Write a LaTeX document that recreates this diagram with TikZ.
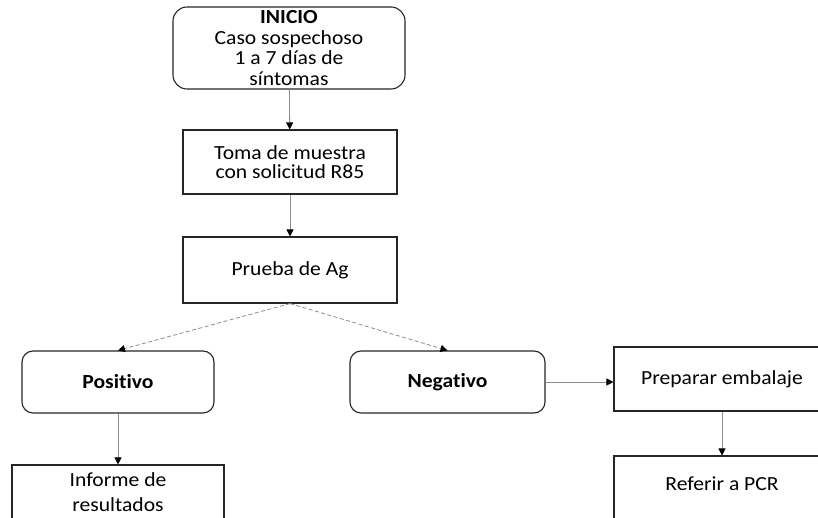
\documentclass[tikz,border=0pt]{standalone}
\usepackage{fontspec}
\setmainfont[FakeStretch=1.08,Ligatures=NoCommon]{Carlito}
\usetikzlibrary{positioning,calc,arrows.meta}

\begin{document}
\begin{tikzpicture}[x=1pt,y=1pt,
        caja/.style={draw=black!85,line width=1.1pt,minimum width=214pt,minimum height=64pt,align=center,
            font=\fontsize{20}{19}\selectfont,inner sep=0pt},
        redonda/.style={caja,rounded corners=11pt},
        flecha/.style={draw=black!45,line width=.8pt,-{Triangle[black,length=7pt,width=7pt]}}]
    \useasboundingbox (0,0) rectangle (818,-518);
    \clip (0,0) rectangle (818,-518);

    \node[redonda,minimum width=232pt,minimum height=82pt,rounded corners=14pt,
        font=\fontsize{20}{20.5}\selectfont] (inicio) at (289,-48)
        {\textbf{INICIO}\\Caso sospechoso\\1 a 7 días de\\síntomas};
    \node[caja] (toma) at (290,-162) {Toma de muestra\\con solicitud R85};
    \node[caja,minimum height=66pt] (prueba) at (290,-270) {Prueba de Ag};

    \node[redonda,minimum width=192pt,minimum height=62pt] (positivo) at (118,-382) {\textbf{Positivo}};
    \node[redonda,minimum width=195pt,minimum height=62pt] (negativo) at (447.5,-382) {\textbf{Negativo}};
    \node[caja,minimum width=216pt] (preparar) at (722,-379) {Preparar embalaje};

    \node[caja,minimum width=212pt,minimum height=70pt,text depth=16pt,font=\fontsize{20}{25}\selectfont] (informe) at (118,-500) {Informe de\\resultados};
    \node[caja,minimum width=216pt,minimum height=70pt,text depth=14pt] (referir) at (722,-491) {Referir a PCR};

    \draw[flecha] (inicio) -- (toma);
    \draw[flecha] (toma) -- (prueba);
    \draw[flecha,dashed,dash pattern=on 4pt off 2.5pt] (prueba.south) -- (positivo.north);
    \draw[flecha,dashed,dash pattern=on 4pt off 2.5pt] (prueba.south) -- (negativo.north);
    \draw[flecha] (positivo) -- (informe);
    \draw[flecha] (negativo.east) -- (negativo.east -| preparar.west);
    \draw[flecha] (preparar) -- (referir);
\end{tikzpicture}
\end{document}
